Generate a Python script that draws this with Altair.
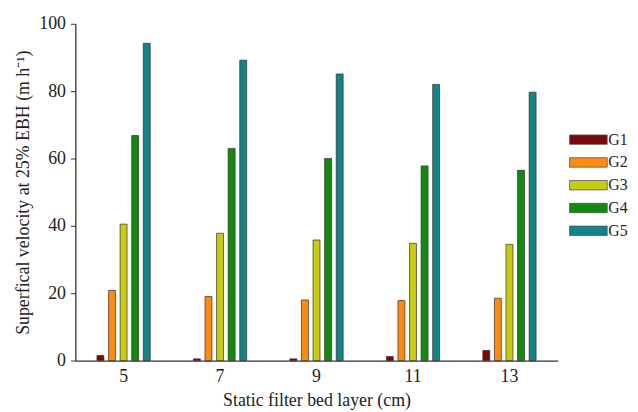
import altair as alt
import pandas as pd

layers = ["5", "7", "9", "11", "13"]
groups = ["G1", "G2", "G3", "G4", "G5"]
g1 = [1.5, 0.5, 0.5, 1.2, 3.0]
g2 = [20.8, 19.0, 18.0, 17.8, 18.5]
g3 = [40.5, 37.8, 35.8, 34.8, 34.5]
g4 = [66.8, 63.0, 60.0, 57.8, 56.5]
g5 = [94.2, 89.2, 85.1, 82.0, 79.7]
colors = ["#7a0a0a", "#ff8a10", "#c8cc10", "#108a10", "#128488"]

rows = []
for g, vals in zip(groups, [g1, g2, g3, g4, g5]):
    for l, v in zip(layers, vals):
        rows.append({"layer": l, "group": g, "value": v})
df = pd.DataFrame(rows)

font = "Liberation Serif"

chart = alt.Chart(df).mark_bar(stroke="#3a2a2a", strokeWidth=0.7).encode(
    x=alt.X("layer:N", sort=layers,
            scale=alt.Scale(paddingInner=0.4, paddingOuter=0.2),
            axis=alt.Axis(title="Static filter bed layer (cm)", labelAngle=0,
                          ticks=False, labelPadding=7, titlePadding=6,
                          domainColor="#333", domainWidth=1.3)),
    xOffset=alt.XOffset("group:N", sort=groups,
                        scale=alt.Scale(paddingInner=0.4, paddingOuter=0.2)),
    y=alt.Y("value:Q", scale=alt.Scale(domain=[0, 100]),
            axis=alt.Axis(title="Superfical velocity at 25% EBH (m h\u207b\u00b9)",
                          values=[0, 20, 40, 60, 80, 100], grid=False,
                          tickSize=5, tickColor="#333", domainColor="#333",
                          domainWidth=1.3, labelPadding=5, titlePadding=6)),
    color=alt.Color("group:N", sort=groups,
                    scale=alt.Scale(domain=groups, range=colors),
                    legend=alt.Legend(title=None, orient="none", legendX=508, legendY=107,
                                      symbolType="M-2,-0.5H2V0.5H-2Z", symbolSize=361,
                                      symbolStrokeColor="#555", symbolStrokeWidth=0.8,
                                      rowPadding=5, labelOffset=10)),
).properties(
    width=487, height=340,
    padding={"left": 68, "top": 14, "right": 73, "bottom": 48},
    autosize=alt.AutoSizeParams(type="none"),
).configure_axis(
    labelFont=font, titleFont=font, labelFontSize=18, titleFontSize=18,
    labelColor="#222", titleColor="#222", titleFontWeight="normal",
).configure_legend(
    labelFont=font, labelFontSize=16, labelColor="#222",
).configure_view(stroke=None)

chart.save("out.html", embed_options={"renderer": "svg", "actions": False})
